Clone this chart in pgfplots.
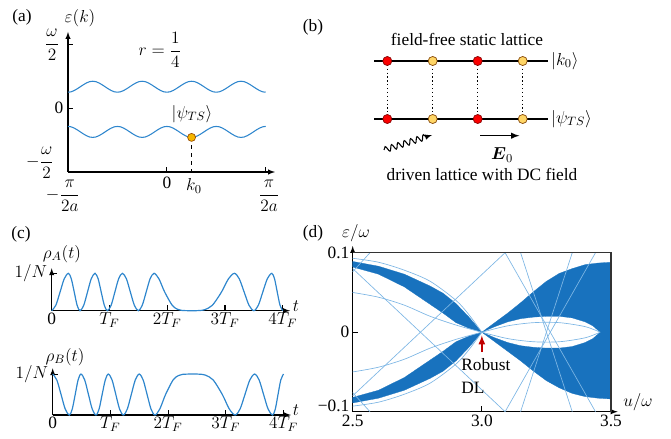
\RequirePackage{fix-cm}
\documentclass[border=0pt]{standalone}
\usepackage{amsmath}
\usepackage{fontspec}
\setmainfont{Liberation Serif}
\usepackage{pgfplots}
\usepackage{pgfplotstable}
\pgfplotsset{compat=1.18}
\usetikzlibrary{decorations.pathmorphing}
\definecolor{curve}{RGB}{46,134,205}
\definecolor{band}{RGB}{24,114,190}
\definecolor{thinblue}{RGB}{125,182,228}
\definecolor{dotred}{RGB}{250,0,0}
\definecolor{dotyel}{RGB}{255,214,102}
\definecolor{dotorange}{RGB}{245,182,0}
\definecolor{arrred}{RGB}{192,0,0}
\pgfplotsset{every axis/.append style={font=\fontsize{13}{15}\selectfont}}

\pgfplotstableread{
j up lo
0 0.127 -0.142
1 0.130 -0.145
2 0.140 -0.155
3 0.154 -0.169
4 0.170 -0.185
5 0.186 -0.201
6 0.200 -0.215
7 0.210 -0.225
8 0.213 -0.228
9 0.210 -0.225
10 0.200 -0.215
11 0.186 -0.201
12 0.170 -0.185
13 0.154 -0.169
14 0.140 -0.155
15 0.130 -0.145
16 0.127 -0.142
17 0.130 -0.145
18 0.140 -0.155
19 0.154 -0.169
20 0.170 -0.185
21 0.186 -0.201
22 0.200 -0.215
23 0.210 -0.225
24 0.213 -0.228
25 0.210 -0.225
26 0.200 -0.215
27 0.186 -0.201
28 0.170 -0.185
29 0.154 -0.169
30 0.140 -0.155
31 0.130 -0.145
32 0.127 -0.142
33 0.130 -0.145
34 0.140 -0.155
35 0.154 -0.169
36 0.170 -0.185
37 0.186 -0.201
38 0.200 -0.215
39 0.210 -0.225
40 0.213 -0.228
41 0.210 -0.225
42 0.200 -0.215
43 0.186 -0.201
44 0.170 -0.185
45 0.154 -0.169
46 0.140 -0.155
47 0.130 -0.145
48 0.127 -0.142
49 0.130 -0.145
50 0.140 -0.155
51 0.154 -0.169
52 0.170 -0.185
53 0.186 -0.201
54 0.200 -0.215
55 0.210 -0.225
56 0.213 -0.228
57 0.210 -0.225
58 0.200 -0.215
59 0.186 -0.201
60 0.170 -0.185
61 0.154 -0.169
62 0.140 -0.155
63 0.130 -0.145
64 0.127 -0.142
}\bandtab

\pgfplotstableread{
t a b
0.000 0.000 1.000
0.072 0.146 0.854
0.145 0.500 0.500
0.217 0.854 0.146
0.289 1.000 0.000
0.339 0.854 0.146
0.390 0.500 0.500
0.440 0.146 0.854
0.490 0.000 1.000
0.555 0.146 0.854
0.620 0.500 0.500
0.685 0.854 0.146
0.750 1.000 0.000
0.804 0.854 0.146
0.857 0.500 0.500
0.911 0.146 0.854
0.964 0.000 1.000
1.029 0.146 0.854
1.094 0.500 0.500
1.159 0.854 0.146
1.224 1.000 0.000
1.293 0.854 0.146
1.362 0.500 0.500
1.431 0.146 0.854
1.500 0.000 1.000
1.568 0.146 0.854
1.636 0.500 0.500
1.704 0.854 0.146
1.772 1.000 0.000
1.856 0.854 0.146
1.956 0.500 0.500
2.086 0.146 0.854
2.178 0.038 0.962
2.250 0.008 0.992
2.400 0.000 1.000
2.550 0.004 0.996
2.650 0.028 0.972
2.782 0.146 0.854
2.940 0.500 0.500
3.061 0.854 0.146
3.163 1.000 0.000
3.247 0.854 0.146
3.332 0.500 0.500
3.416 0.146 0.854
3.500 0.000 1.000
3.578 0.146 0.854
3.655 0.500 0.500
3.733 0.854 0.146
3.810 1.000 0.000
3.858 0.854 0.146
3.905 0.500 0.500
3.953 0.146 0.854
4.000 0.000 1.000
}\rhotab

\begin{document}
\begin{tikzpicture}[font=\fontsize{13}{15}\selectfont]
\path[use as bounding box] (0,0) rectangle (503.25pt,-329.25pt);

% ---------- panel (a)
\begin{axis}[at={(51pt,-129pt)}, anchor=south west, scale only axis,
  width=155.25pt, height=105pt, xmin=0, xmax=67, ymin=-0.5, ymax=0.6,
  axis lines=left, axis line style={line width=0.8pt,-latex},
  xtick={32,64}, ytick={0,0.5}, xticklabels={}, yticklabels={},
  tick style={black, line width=0.8pt}, tick align=inside, major tick length=4pt,
  clip=false]
\addplot[curve, line width=0.8pt, smooth] table[x=j,y=up]{\bandtab};
\addplot[curve, line width=0.8pt, smooth] table[x=j,y=lo]{\bandtab};
\addplot[black, dashed, line width=0.8pt] coordinates {(40,-0.228) (40,-0.5)};
\addplot[only marks, mark=*, mark size=3pt, mark options={fill=dotorange, draw=orange!60!black, line width=0.5pt}] coordinates {(40,-0.228)};
\end{axis}

% ---------- panel (c) top
\begin{axis}[at={(38.775pt,-233.025pt)}, anchor=south west, scale only axis,
  width=178.725pt, height=31.8pt, xmin=0, xmax=4.126, ymin=0, ymax=1.134,
  axis lines=left, axis line style={line width=0.8pt,-latex},
  xtick={0,1,2,3,4}, xticklabels={0,$T_F$,$2T_F$,$3T_F$,$4T_F$},
  ytick={1}, yticklabels={$1/N$},
  tick style={black, line width=0.8pt}, tick align=inside, major tick length=4pt,
  xticklabel style={yshift=2pt}, clip=false]
\addplot[curve, line width=0.9pt, smooth] table[x=t,y=a]{\rhotab};
\end{axis}

% ---------- panel (c) bottom
\begin{axis}[at={(39.525pt,-311.25pt)}, anchor=south west, scale only axis,
  width=178.725pt, height=35.025pt, xmin=0, xmax=4.13, ymin=0, ymax=1.14,
  axis lines=left, axis line style={line width=0.8pt,-latex},
  xtick={0,1,2,3,4}, xticklabels={0,$T_F$,$2T_F$,$3T_F$,$4T_F$},
  ytick={1}, yticklabels={$1/N$},
  tick style={black, line width=0.8pt}, tick align=inside, major tick length=4pt,
  xticklabel style={yshift=2pt}, clip=false]
\addplot[curve, line width=0.9pt, smooth] table[x=t,y=b]{\rhotab};
\end{axis}

% ---------- panel (d)
\begin{axis}[at={(264.525pt,-308.775pt)}, anchor=south west, scale only axis,
  width=193.725pt, height=119.25pt, xmin=2.5, xmax=3.5, ymin=-0.1, ymax=0.1,
  axis lines=left, axis line style={line width=0.8pt,-latex, shorten >=-5pt},
  xtick={2.5,3,3.5}, xticklabels={2.5,3.0,3.5},
  ytick={-0.1,0,0.1}, yticklabels={{\raisebox{9pt}{−0.1}},0,0.1},
  tick style={black, line width=0.8pt}, tick align=inside, major tick length=4pt,
  yticklabel style={xshift=1pt}, xticklabel style={yshift=1pt},
  clip=false]
% bands
\addplot[fill=band, draw=band, line width=0.2pt] coordinates {(2.5,0.089)(2.6,0.083)(2.7,0.073)(2.8,0.058)(2.85,0.049)(2.9,0.036)(2.95,0.019)(3.0,0)(2.95,0.005)(2.9,0.012)(2.85,0.024)(2.8,0.035)(2.7,0.057)(2.6,0.073)(2.5,0.082)} -- cycle;
\addplot[fill=band, draw=band, line width=0.2pt] coordinates {(2.5,-0.089)(2.6,-0.083)(2.7,-0.073)(2.8,-0.058)(2.85,-0.049)(2.9,-0.036)(2.95,-0.019)(3.0,0)(2.95,-0.005)(2.9,-0.012)(2.85,-0.024)(2.8,-0.035)(2.7,-0.057)(2.6,-0.073)(2.5,-0.082)} -- cycle;
\addplot[fill=band, draw=band, line width=0.2pt] coordinates {(3.0,0)(3.05,0.012)(3.1,0.024)(3.15,0.037)(3.2,0.051)(3.25,0.064)(3.3,0.074)(3.35,0.080)(3.4,0.085)(3.45,0.087)(3.5,0.088)(3.5,0)(3.458,0)(3.43,0.008)(3.4,0.013)(3.35,0.018)(3.3,0.020)(3.25,0.020)(3.2,0.019)(3.15,0.017)(3.1,0.013)(3.05,0.007)} -- cycle;
\addplot[fill=band, draw=band, line width=0.2pt] coordinates {(3.0,0)(3.05,-0.012)(3.1,-0.024)(3.15,-0.036)(3.2,-0.049)(3.25,-0.061)(3.3,-0.070)(3.35,-0.077)(3.4,-0.081)(3.45,-0.083)(3.5,-0.084)(3.5,0)(3.458,0)(3.43,-0.008)(3.4,-0.013)(3.35,-0.018)(3.3,-0.020)(3.25,-0.020)(3.2,-0.019)(3.15,-0.017)(3.1,-0.013)(3.05,-0.007)} -- cycle;
% thin lines
\addplot[thinblue, line width=0.5pt] coordinates {(2.5,0.076)(2.567,0.1)};
\addplot[thinblue, line width=0.5pt] coordinates {(2.5,-0.076)(2.567,-0.1)};
\addplot[thinblue, line width=0.5pt] coordinates {(2.5,-0.08)(3.09,0.1)};
\addplot[thinblue, line width=0.5pt] coordinates {(2.5,0.08)(3.09,-0.1)};
\addplot[thinblue, line width=0.5pt] coordinates {(3.09,0.1)(3.44,-0.1)};
\addplot[thinblue, line width=0.5pt] coordinates {(3.09,-0.1)(3.44,0.1)};
\addplot[thinblue, line width=0.5pt] coordinates {(3.15,0.1)(3.35,-0.1)};
\addplot[thinblue, line width=0.5pt] coordinates {(3.15,-0.1)(3.35,0.1)};
\addplot[thinblue, line width=0.5pt, smooth] coordinates {(2.5,0.050)(2.6,0.044)(2.7,0.034)(2.8,0.020)(2.9,0.009)(3.0,0)(3.1,-0.008)(3.2,-0.012)(3.3,-0.012)(3.4,-0.007)(3.458,0)};
\addplot[thinblue, line width=0.5pt, smooth] coordinates {(2.5,-0.050)(2.6,-0.044)(2.7,-0.034)(2.8,-0.020)(2.9,-0.009)(3.0,0)(3.1,0.008)(3.2,0.012)(3.3,0.012)(3.4,0.007)(3.458,0)};
\addplot[thinblue, line width=0.5pt, smooth] coordinates {(2.5,0.093)(2.6,0.088)(2.7,0.078)(2.8,0.064)(2.9,0.040)(2.95,0.022)(3.0,0)};
\addplot[thinblue, line width=0.5pt, smooth] coordinates {(2.5,-0.093)(2.6,-0.088)(2.7,-0.078)(2.8,-0.064)(2.9,-0.040)(2.95,-0.022)(3.0,0)};
% arrow
\addplot[arrred, line width=1.3pt, -latex] coordinates {(3.0,-0.025)(3.0,-0.004)};
\draw[black!80, line width=0.8pt] (rel axis cs:0,1) -- (rel axis cs:1,1) -- (rel axis cs:1,0);
\end{axis}

% ---------- layout axis: panel (b) and labels (pixel coordinates)
\begin{axis}[at={(0pt,0pt)}, anchor=north west, scale only axis,
  width=503.25pt, height=329.25pt, xmin=0, xmax=671, ymin=-439, ymax=0,
  hide axis, clip=false]
% panel (b)
\addplot[black, line width=0.9pt] coordinates {(374,-61)(548,-61)};
\addplot[black, line width=0.9pt] coordinates {(374,-119)(548,-119)};
\addplot[black, dotted, line width=0.9pt] coordinates {(387.3,-61)(387.3,-119)};
\addplot[black, dotted, line width=0.9pt] coordinates {(432.7,-61)(432.7,-119)};
\addplot[black, dotted, line width=0.9pt] coordinates {(477.7,-61)(477.7,-119)};
\addplot[black, dotted, line width=0.9pt] coordinates {(522.7,-61)(522.7,-119)};
\addplot[only marks, mark=*, mark size=3.4pt, mark options={fill=dotred, draw=red!50!black, line width=0.5pt}] coordinates {(387.3,-61)(477.7,-61)(387.3,-119)(477.7,-119)};
\addplot[only marks, mark=*, mark size=3.4pt, mark options={fill=dotyel, draw=orange!50!black, line width=0.5pt}] coordinates {(432.7,-61)(522.7,-61)(432.7,-119)(522.7,-119)};
\addplot[black, line width=1.1pt, -latex] coordinates {(480,-135.7)(519.3,-135.7)};
\draw[black, line width=0.8pt, -latex, decorate, decoration={snake, amplitude=2.2pt, segment length=5pt, post length=3pt}] (axis cs:384,-150) -- (axis cs:432,-135);
\node at (axis cs:313,-27) {(b)};
\node at (axis cs:467,-39) {field-free static lattice};
\node at (axis cs:482,-174) {driven lattice with DC field};
\node[anchor=west, inner sep=0pt] at (axis cs:551,-61) {$|k_0\rangle$};
\node[anchor=west, inner sep=0pt] at (axis cs:551,-119) {$|\psi_{TS}\rangle$};
\node at (axis cs:502,-155) {$\boldsymbol{E}_0$};
% panel (a) labels
\node at (axis cs:22,-17) {(a)};
\node at (axis cs:80,-18) {$\varepsilon(k)$};
\node at (axis cs:52,-45) {$\dfrac{\omega}{2}$};
\node at (axis cs:59,-108) {0};
\node at (axis cs:40,-163) {$-\dfrac{\omega}{2}$};
\node at (axis cs:63,-196) {$-\dfrac{\pi}{2a}$};
\node at (axis cs:167,-183) {0};
\node at (axis cs:194,-186) {$k_0$};
\node at (axis cs:269,-196) {$\dfrac{\pi}{2a}$};
\node at (axis cs:160,-50) {$r=\dfrac{1}{4}$};
\node at (axis cs:192,-114) {$|\psi_{TS}\rangle$};
% panel (c) labels
\node at (axis cs:21,-234) {(c)};
\node at (axis cs:62,-254) {$\rho_A(t)$};
\node at (axis cs:65,-357) {$\rho_B(t)$};
\node at (axis cs:296,-306) {$t$};
\node at (axis cs:296,-410) {$t$};
% panel (d) labels
\node at (axis cs:313,-233) {(d)};
\node at (axis cs:356,-233) {$\varepsilon/\omega$};
\node at (axis cs:638,-402) {$u/\omega$};
\node[anchor=west, inner sep=0pt] at (axis cs:461,-365) {Robust};
\node[anchor=west, inner sep=0pt] at (axis cs:461,-388) {DL};
\end{axis}
\end{tikzpicture}
\end{document}
